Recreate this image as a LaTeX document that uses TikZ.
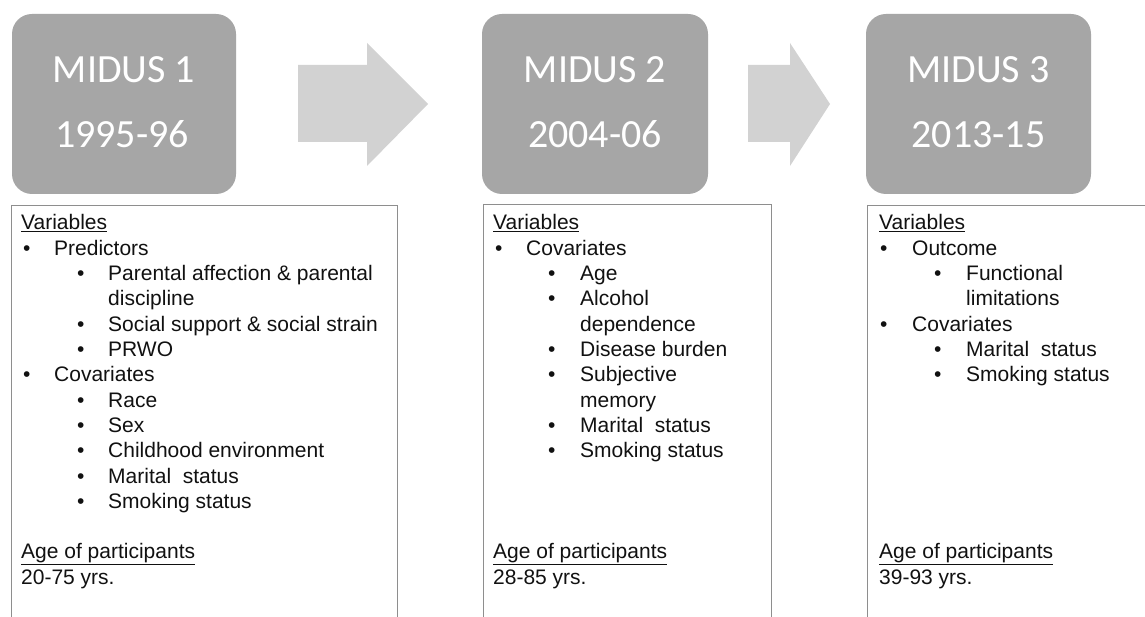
\documentclass[tikz,border=0pt]{standalone}
\usepackage{fontspec}
\setmainfont{Liberation Sans}
\newfontfamily\hdrfont{Carlito}
\definecolor{hdrgray}{HTML}{A6A6A6}
\definecolor{arrgray}{HTML}{D2D2D2}
\definecolor{boxline}{HTML}{8E8E8E}
\definecolor{txtcol}{HTML}{111111}
\begin{document}
\begin{tikzpicture}[x=1pt,y=-1pt,
  hdr/.style={fill=hdrgray,draw=none,rounded corners=20pt},
  hdrtxt/.style={anchor=base,inner sep=0pt,text=white,font=\hdrfont\fontsize{40}{44}\selectfont},
  arr/.style={fill=arrgray,draw=none},
  infobox/.style={draw=boxline,line width=0.9pt,fill=none},
  txt/.style={anchor=base west,inner sep=0pt,text=txtcol,font=\fontsize{21}{24}\selectfont},
  bul/.style={anchor=base west,inner sep=0pt,text=txtcol,font=\fontsize{21}{24}\selectfont}]
\useasboundingbox (0,0) rectangle (1145,617);
\clip (0,0) rectangle (1145,617);
\fill[white] (0,0) rectangle (1145,617);

% header boxes
\path[hdr] (12,14) rectangle (236,194);
\path[hdr] (482,14) rectangle (708,194);
\path[hdr] (866,14) rectangle (1091,194);
\node[hdrtxt] (h1a) at (124,83) {MIDUS 1};
\node[hdrtxt] (h1b) at (122,148) {1995-96};
\node[hdrtxt] (h2a) at (595,83) {MIDUS 2};
\node[hdrtxt] (h2b) at (595,148) {2004-06};
\node[hdrtxt] (h3a) at (978.5,83) {MIDUS 3};
\node[hdrtxt] (h3b) at (978.5,148) {2013-15};

% block arrows
\path[arr] (298,65) -- (367,65) -- (367,43) -- (428,104) -- (367,166) -- (367,142) -- (298,142) -- cycle;
\path[arr] (748,65) -- (790,65) -- (790,43) -- (830,104) -- (790,166) -- (790,142) -- (748,142) -- cycle;

% info boxes
\path[infobox] (11,205) -- (397,205) -- (397,630) (11,205) -- (11,630);
\path[infobox] (483,204) -- (771,204) -- (771,630) (483,204) -- (483,630);
\path[infobox] (867,205) -- (1150,205) (867,205) -- (867,630);

% box 1
\node[txt] (a0) at (21,230) {\underline{Variables}};
\node[bul] (a1b) at (23,255.3) {•};
\node[txt] (a1) at (54,255.3) {Predictors};
\node[bul] (a2b) at (77,280.6) {•};
\node[txt] (a2) at (108,280.6) {Parental affection \& parental};
\node[txt] (a3) at (108,305.9) {discipline};
\node[bul] (a4b) at (77,331.2) {•};
\node[txt] (a4) at (108,331.2) {Social support \& social strain};
\node[bul] (a5b) at (77,356.5) {•};
\node[txt] (a5) at (108,356.5) {PRWO};
\node[bul] (a6b) at (23,381.8) {•};
\node[txt] (a6) at (54,381.8) {Covariates};
\node[bul] (a7b) at (77,407.1) {•};
\node[txt] (a7) at (108,407.1) {Race};
\node[bul] (a8b) at (77,432.4) {•};
\node[txt] (a8) at (108,432.4) {Sex};
\node[bul] (a9b) at (77,457.7) {•};
\node[txt] (a9) at (108,457.7) {Childhood environment};
\node[bul] (a10b) at (77,483) {•};
\node[txt] (a10) at (108,483) {Marital\ \ status};
\node[bul] (a11b) at (77,508.3) {•};
\node[txt] (a11) at (108,508.3) {Smoking status};
\node[txt] (a12) at (21,558.9) {\underline{Age of participants}};
\node[txt] (a13) at (21,584.2) {20-75 yrs.};

% box 2
\node[txt] (b0) at (493,230) {\underline{Variables}};
\node[bul] (b1b) at (495,255.3) {•};
\node[txt] (b1) at (526,255.3) {Covariates};
\node[bul] (b2b) at (548,280.6) {•};
\node[txt] (b2) at (580,280.6) {Age};
\node[bul] (b3b) at (548,305.9) {•};
\node[txt] (b3) at (580,305.9) {Alcohol};
\node[txt] (b4) at (580,331.2) {dependence};
\node[bul] (b5b) at (548,356.5) {•};
\node[txt] (b5) at (580,356.5) {Disease burden};
\node[bul] (b6b) at (548,381.8) {•};
\node[txt] (b6) at (580,381.8) {Subjective};
\node[txt] (b7) at (580,407.1) {memory};
\node[bul] (b8b) at (548,432.4) {•};
\node[txt] (b8) at (580,432.4) {Marital\ \ status};
\node[bul] (b9b) at (548,457.7) {•};
\node[txt] (b9) at (580,457.7) {Smoking status};
\node[txt] (b10) at (493,558.9) {\underline{Age of participants}};
\node[txt] (b11) at (493,584.2) {28-85 yrs.};

% box 3
\node[txt] (c0) at (879,230) {\underline{Variables}};
\node[bul] (c1b) at (880,255.3) {•};
\node[txt] (c1) at (912,255.3) {Outcome};
\node[bul] (c2b) at (934,280.6) {•};
\node[txt] (c2) at (966,280.6) {Functional};
\node[txt] (c3) at (966,305.9) {limitations};
\node[bul] (c4b) at (880,331.2) {•};
\node[txt] (c4) at (912,331.2) {Covariates};
\node[bul] (c5b) at (934,356.5) {•};
\node[txt] (c5) at (966,356.5) {Marital\ \ status};
\node[bul] (c6b) at (934,381.8) {•};
\node[txt] (c6) at (966,381.8) {Smoking status};
\node[txt] (c7) at (879,558.9) {\underline{Age of participants}};
\node[txt] (c8) at (879,584.2) {39-93 yrs.};
\end{tikzpicture}
\end{document}
